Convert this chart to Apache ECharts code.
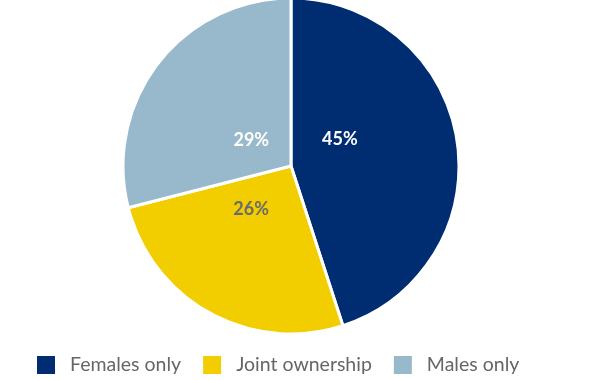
<!DOCTYPE html>
<html><head><meta charset="utf-8">
<script src="https://cdn.jsdelivr.net/npm/echarts@6/dist/echarts.min.js"></script>
<style>html,body{margin:0;padding:0;background:#fff}#c{width:610px;height:380px}</style>
</head><body><div id="c"></div>
<script>
const categories = ["Females only", "Joint ownership", "Males only"];
const values = [45, 26, 29];
const colors = ["#002D72", "#F2CD00", "#98B9CC"];
const labelColors = ["#ffffff", "#6b6b6b", "#ffffff"];
const labelShift = [[-37, -13], [2, -33], [29, 28]];

const chart = echarts.init(document.getElementById('c'));
chart.setOption({
  animation: false,
  legend: {
    left: 35, top: 354, padding: 0, itemWidth: 20, itemHeight: 20, itemGap: 20,
    icon: 'rect',
    textStyle: { fontFamily: 'Lato', fontSize: 19.5, color: '#666666', padding: [0, 0, 0, 9] },
    data: categories
  },
  series: [{
    type: 'pie',
    center: [291, 166],
    radius: [0, 168],
    startAngle: 90,
    clockwise: true,
    itemStyle: { borderColor: '#ffffff', borderWidth: 3 },
    label: { position: 'inside', formatter: '{c}%', fontFamily: 'Lato', fontWeight: 'bold', fontSize: 18 },
    labelLayout: function (p) { return { dx: labelShift[p.dataIndex][0], dy: labelShift[p.dataIndex][1] }; },
    emphasis: { disabled: true },
    data: categories.map((n, i) => ({
      name: n, value: values[i],
      itemStyle: { color: colors[i] },
      label: { color: labelColors[i] }
    }))
  }]
});
</script></body></html>
